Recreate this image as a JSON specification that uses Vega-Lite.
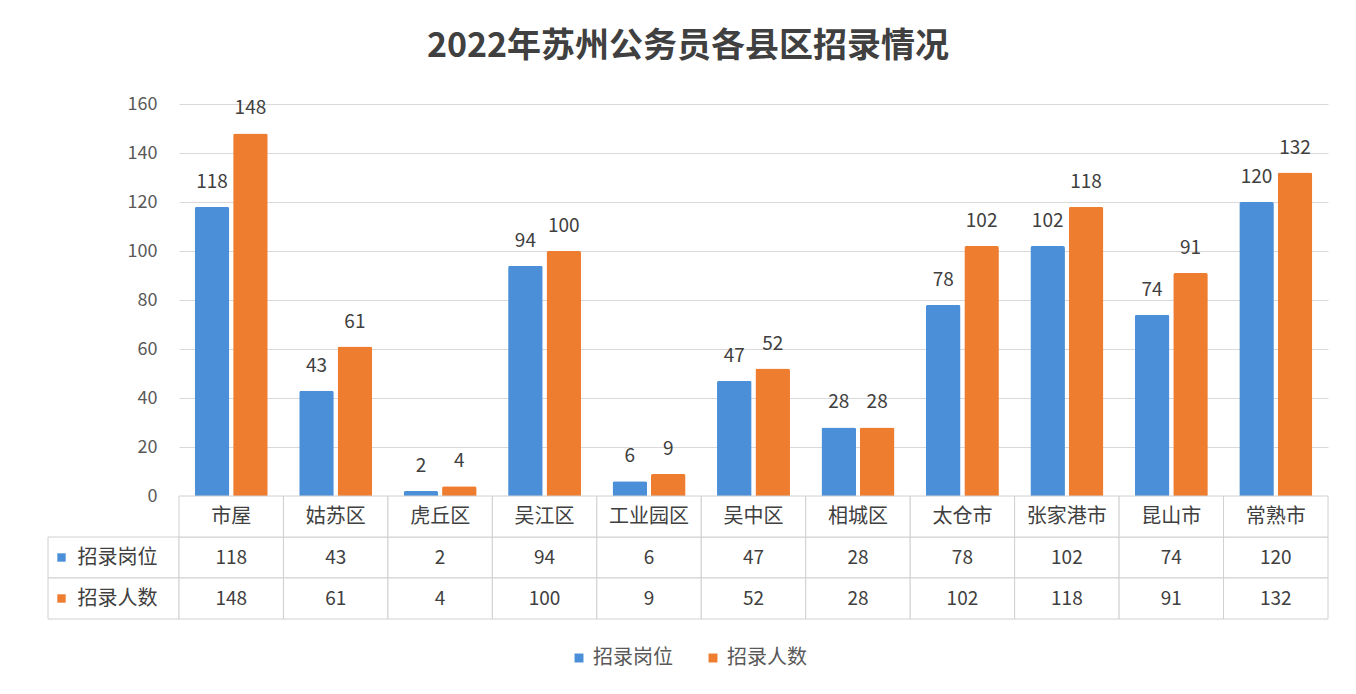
{
  "$schema": "https://vega.github.io/schema/vega-lite/v6.json",
  "padding": {"left": 47, "top": 30, "right": 29, "bottom": 20},
  "background": "white",
  "title": {"text": "2022年苏州公务员各县区招录情况", "fontSize": 34, "fontWeight": "bold", "color": "#404040", "font": "Noto Sans CJK SC", "anchor": "middle", "offset": 31},
  "data": {"values": [
    {"cat": "市屋", "招录岗位": 118, "招录人数": 148},
    {"cat": "姑苏区", "招录岗位": 43, "招录人数": 61},
    {"cat": "虎丘区", "招录岗位": 2, "招录人数": 4},
    {"cat": "吴江区", "招录岗位": 94, "招录人数": 100},
    {"cat": "工业园区", "招录岗位": 6, "招录人数": 9},
    {"cat": "吴中区", "招录岗位": 47, "招录人数": 52},
    {"cat": "相城区", "招录岗位": 28, "招录人数": 28},
    {"cat": "太仓市", "招录岗位": 78, "招录人数": 102},
    {"cat": "张家港市", "招录岗位": 102, "招录人数": 118},
    {"cat": "昆山市", "招录岗位": 74, "招录人数": 91},
    {"cat": "常熟市", "招录岗位": 120, "招录人数": 132}
  ]},
  "columns": 2,
  "spacing": 0,
  "bounds": "flush",
  "concat": [
    {
      "width": 131, "height": 392,
      "data": {"values": []},
      "mark": "point"
    },
    {
      "width": 1149, "height": 392,
      "transform": [{"fold": ["招录岗位", "招录人数"], "as": ["row", "val"]}],
      "encoding": {
        "x": {"field": "cat", "type": "nominal", "sort": null, "axis": null, "scale": {"paddingInner": 0, "paddingOuter": 0}},
        "xOffset": {"field": "row", "type": "nominal", "sort": ["招录岗位", "招录人数"], "scale": {"paddingInner": 0.1, "paddingOuter": 0.41}},
        "y": {"field": "val", "type": "quantitative", "scale": {"domain": [0, 160]},
          "axis": {"title": null, "values": [0, 20, 40, 60, 80, 100, 120, 140, 160], "domain": false, "ticks": false, "labelPadding": 22, "labelFontSize": 18, "labelColor": "#595959", "labelFont": "Noto Sans CJK SC", "gridColor": "#d9d9d9"}}
      },
      "layer": [
        {"mark": {"type": "bar", "cornerRadiusTopLeft": 2, "cornerRadiusTopRight": 2},
         "encoding": {"color": {"field": "row", "type": "nominal", "scale": {"domain": ["招录岗位", "招录人数"], "range": ["#4a8fd8", "#ee7d30"]},
           "legend": {"title": null, "orient": "bottom", "direction": "horizontal", "symbolType": "square", "symbolSize": 80, "labelFontSize": 20, "labelColor": "#595959", "labelFont": "Noto Sans CJK SC", "columnPadding": 30, "offset": 28}}}},
        {"mark": {"type": "text", "baseline": "bottom", "dy": -15, "fontSize": 19, "color": "#404040", "font": "Noto Sans CJK SC"},
         "encoding": {"text": {"field": "val", "type": "quantitative"}}}
      ]
    },
    {
      "width": 131, "height": 123,
      "data": {"values": [{"row": "招录岗位"}, {"row": "招录人数"}]},
      "encoding": {"y": {"field": "row", "type": "nominal", "scale": {"domain": ["name", "招录岗位", "招录人数"], "paddingInner": 0, "paddingOuter": 0}, "axis": null}},
      "layer": [
        {"mark": {"type": "rect", "fill": "white", "stroke": "#d0d0d0", "strokeWidth": 1}},
        {"mark": {"type": "square", "size": 70, "filled": true, "opacity": 1, "xOffset": -52},
         "encoding": {"color": {"field": "row", "type": "nominal", "legend": null}}},
        {"mark": {"type": "text", "align": "left", "dx": -36, "fontSize": 20, "color": "#404040", "font": "Noto Sans CJK SC"},
         "encoding": {"text": {"field": "row", "type": "nominal"}}}
      ]
    },
    {
      "width": 1149, "height": 123,
      "transform": [{"fold": ["招录岗位", "招录人数"], "as": ["row", "val"]}],
      "encoding": {
        "x": {"field": "cat", "type": "nominal", "sort": null, "axis": null, "scale": {"paddingInner": 0, "paddingOuter": 0}},
        "y": {"field": "row", "type": "nominal", "scale": {"domain": ["name", "招录岗位", "招录人数"], "paddingInner": 0, "paddingOuter": 0}, "axis": null}
      },
      "layer": [
        {"mark": {"type": "rect", "fill": "white", "stroke": "#d0d0d0", "strokeWidth": 1}},
        {"mark": {"type": "text", "fontSize": 19, "color": "#404040", "font": "Noto Sans CJK SC"},
         "encoding": {"text": {"field": "val", "type": "quantitative"}}},
        {"transform": [{"filter": "datum.row == '招录岗位'"}],
         "mark": {"type": "rect", "fill": "white", "stroke": "#d0d0d0", "strokeWidth": 1},
         "encoding": {"y": {"datum": "name"}}},
        {"transform": [{"filter": "datum.row == '招录岗位'"}],
         "mark": {"type": "text", "fontSize": 20, "color": "#404040", "font": "Noto Sans CJK SC"},
         "encoding": {"y": {"datum": "name"}, "text": {"field": "cat", "type": "nominal"}}}
      ]
    }
  ],
  "config": {
    "view": {"stroke": null},
    "legend": {"layout": {"bottom": {"anchor": "middle"}}}
  }
}
